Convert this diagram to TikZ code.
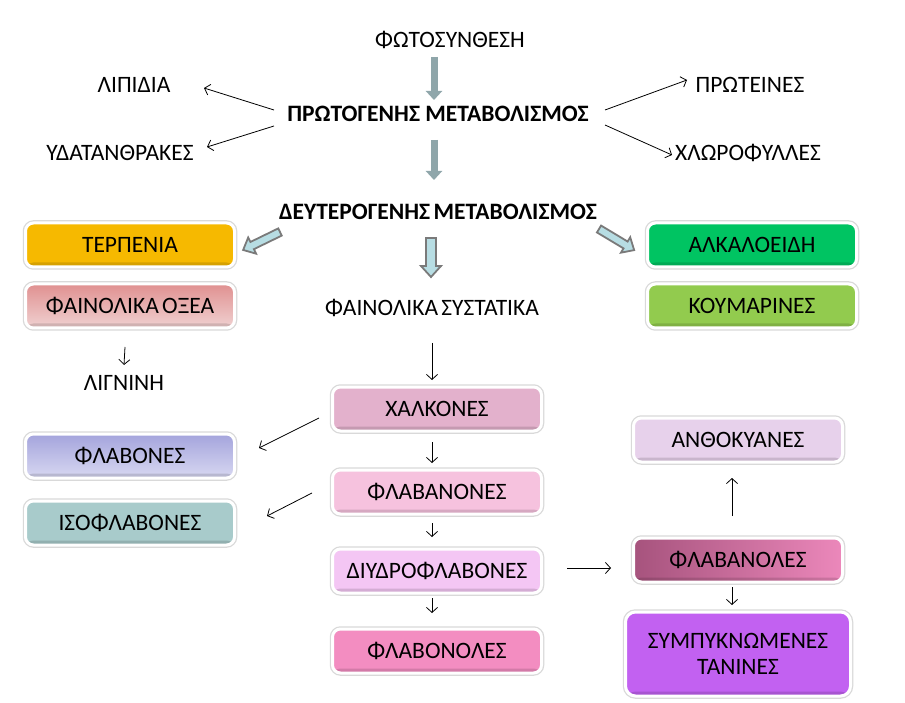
\documentclass[tikz,border=0pt]{standalone}
\usepackage{fontspec}
\setmainfont{Carlito}
\usetikzlibrary{arrows.meta}
\definecolor{grayarrow}{HTML}{8FA6AA}
\definecolor{blockfill}{HTML}{B7DDE3}
\definecolor{blockline}{HTML}{7A7A7A}
\definecolor{cterp}{HTML}{F6B900}
\definecolor{cacidT}{HTML}{E09090}
\definecolor{cacidB}{HTML}{F0D2D2}
\definecolor{calk}{HTML}{00C462}
\definecolor{ckou}{HTML}{92CB4E}
\definecolor{cxalk}{HTML}{E3B1CC}
\definecolor{cflavT}{HTML}{A4A4DC}
\definecolor{cflavB}{HTML}{D8D8F2}
\definecolor{ciso}{HTML}{A8CBCB}
\definecolor{cflavanon}{HTML}{F6C2DE}
\definecolor{cdiyd}{HTML}{F4C6F4}
\definecolor{cflavonol}{HTML}{F38DC1}
\definecolor{canth}{HTML}{E7D1EB}
\definecolor{cflanolL}{HTML}{A6537D}
\definecolor{cflanolR}{HTML}{EC88BB}
\definecolor{ctan}{HTML}{C261F1}
\tikzset{
  x=1pt, y=-1pt,
  every node/.style={font=\fontsize{23.5pt}{27pt}\selectfont, inner sep=0pt},
  lbl/.style={},
  head/.style={font=\fontsize{23.5pt}{27pt}\selectfont\bfseries},
  box/.style={rounded corners=8pt, minimum width=209pt, minimum height=44pt,
    draw=white, line width=3pt, align=center,
    preaction={draw=black!15, line width=5.5pt},
    path picture={\fill[black,opacity=0.13] ([yshift=4.5pt]path picture bounding box.south west) rectangle (path picture bounding box.south east);}},
  thin/.style={draw=black, line width=0.8pt, -{Straight Barb[length=5pt,width=11pt]}},
  thick/.style={draw=grayarrow, line width=7pt, -{Triangle[length=9pt,width=16pt]}},
  blockarrow/.style={fill=blockfill, draw=blockline, line width=1.8pt, line join=miter},
}
\begin{document}
\begin{tikzpicture}
\useasboundingbox[fill=white] (0,0) rectangle (905,703);

% text nodes
\node[lbl] (photo) at (450,40) {ΦΩΤΟΣΥΝΘΕΣΗ};
\node[head] (prot) at (438,114) {ΠΡΩΤΟΓΕΝΗΣ ΜΕΤΑΒΟΛΙΣΜΟΣ};
\node[lbl] (lip) at (134,85) {ΛΙΠΙΔΙΑ};
\node[lbl] (ydat) at (120,153) {ΥΔΑΤΑΝΘΡΑΚΕΣ};
\node[lbl] (prw) at (750,85) {ΠΡΩΤΕΙΝΕΣ};
\node[lbl] (xlw) at (748,153) {ΧΛΩΡΟΦΥΛΛΕΣ};
\node[head] (deut) at (438,212) {ΔΕΥΤΕΡΟΓΕΝΗΣ\hspace{-2pt} ΜΕΤΑΒΟΛΙΣΜΟΣ};
\node[lbl] (fsys) at (432,308) {ΦΑΙΝΟΛΙΚΑ\hspace{-2pt} ΣΥΣΤΑΤΙΚΑ};
\node[lbl] (lign) at (124,383) {ΛΙΓΝΙΝΗ};

% boxes
\node[box, fill=cterp] (terp) at (130,245) {ΤΕΡΠΕΝΙΑ};
\node[box, top color=cacidT, bottom color=cacidB] (acid) at (130,306) {ΦΑΙΝΟΛΙΚΑ\hspace{-2pt} ΟΞΕΑ};
\node[box, fill=calk] (alk) at (752,245) {ΑΛΚΑΛΟΕΙΔΗ};
\node[box, fill=ckou] (kou) at (752,306) {ΚΟΥΜΑΡΙΝΕΣ};
\node[box, fill=cxalk] (xalk) at (437,409) {ΧΑΛΚΟΝΕΣ};
\node[box, top color=cflavT, bottom color=cflavB] (flav) at (130,456) {ΦΛΑΒΟΝΕΣ};
\node[box, fill=ciso] (iso) at (130,523) {ΙΣΟΦΛΑΒΟΝΕΣ};
\node[box, fill=cflavanon] (flavanon) at (437,492) {ΦΛΑΒΑΝΟΝΕΣ};
\node[box, fill=cdiyd] (diyd) at (437,571) {ΔΙΥΔΡΟΦΛΑΒΟΝΕΣ};
\node[box, fill=cflavonol] (flavonol) at (437,651) {ΦΛΑΒΟΝΟΛΕΣ};
\node[box, fill=canth] (anth) at (738,440) {ΑΝΘΟΚΥΑΝΕΣ};
\node[box, left color=cflanolL, right color=cflanolR] (flavanol) at (738,560) {ΦΛΑΒΑΝΟΛΕΣ};
\node[box, fill=ctan, minimum width=225pt, minimum height=84pt, rounded corners=10pt] (tan) at (738,654) {ΣΥΜΠΥΚΝΩΜΕΝΕΣ\\[-1pt]ΤΑΝΙΝΕΣ};

% thick gray arrows
\draw[thick] ([shift={(-16,17)}]photo.center) -- ([shift={(-4,-14)}]prot.center);
\draw[thick] ([shift={(-4,26)}]prot.center) -- ([shift={(-4,-32)}]deut.center);

% block arrows
\begin{scope}[shift={(280,232)}, rotate=206]
  \draw[blockarrow] (0,-4) -- (31,-4) -- (31,-9) -- (41,0) -- (31,9) -- (31,4) -- (0,4) -- cycle;
\end{scope}
\begin{scope}[shift={(431,238)}, rotate=-90]
  \draw[blockarrow] (0,-5) -- (28,-5) -- (28,-10) -- (39,0) -- (28,10) -- (28,5) -- (0,5) -- cycle;
\end{scope}
\begin{scope}[shift={(599,229)}, rotate=-31]
  \draw[blockarrow] (0,-4) -- (31,-4) -- (31,-9) -- (41,0) -- (31,9) -- (31,4) -- (0,4) -- cycle;
\end{scope}

% thin arrows
\draw[thin] ([shift={(-164,-4)}]prot.center) -- ([shift={(70,3)}]lip.center);
\draw[thin] ([shift={(-164,12)}]prot.center) -- ([shift={(87,-6)}]ydat.center);
\draw[thin] ([shift={(167,-4)}]prot.center) -- ([shift={(-63,-5)}]prw.center);
\draw[thin] ([shift={(167,11)}]prot.center) -- ([shift={(-76,2)}]xlw.center);
\draw[thin] ([shift={(-5,41)}]acid.center) -- ([shift={(0,-18)}]lign.center);
\draw[thin] ([shift={(0,35)}]fsys.center) -- ([shift={(-5,-29)}]xalk.center);
\draw[thin] ([shift={(-118,9)}]xalk.center) -- ([shift={(129,-8)}]flav.center);
\draw[thin] ([shift={(-125,1)}]flavanon.center) -- ([shift={(137,-7)}]iso.center);
\draw[thin] ([shift={(-5,33)}]xalk.center) -- ([shift={(-5,-29)}]flavanon.center);
\draw[thin] ([shift={(-5,31)}]flavanon.center) -- ([shift={(-5,-34)}]diyd.center);
\draw[thin] ([shift={(-5,27)}]diyd.center) -- ([shift={(-5,-38)}]flavonol.center);
\draw[thin] ([shift={(130,-3)}]diyd.center) -- ([shift={(-127,8)}]flavanol.center);
\draw[thin] ([shift={(-6,-44)}]flavanol.center) -- ([shift={(-6,38)}]anth.center);
\draw[thin] ([shift={(-6,27)}]flavanol.center) -- ([shift={(-6,-49)}]tan.center);
\end{tikzpicture}
\end{document}
